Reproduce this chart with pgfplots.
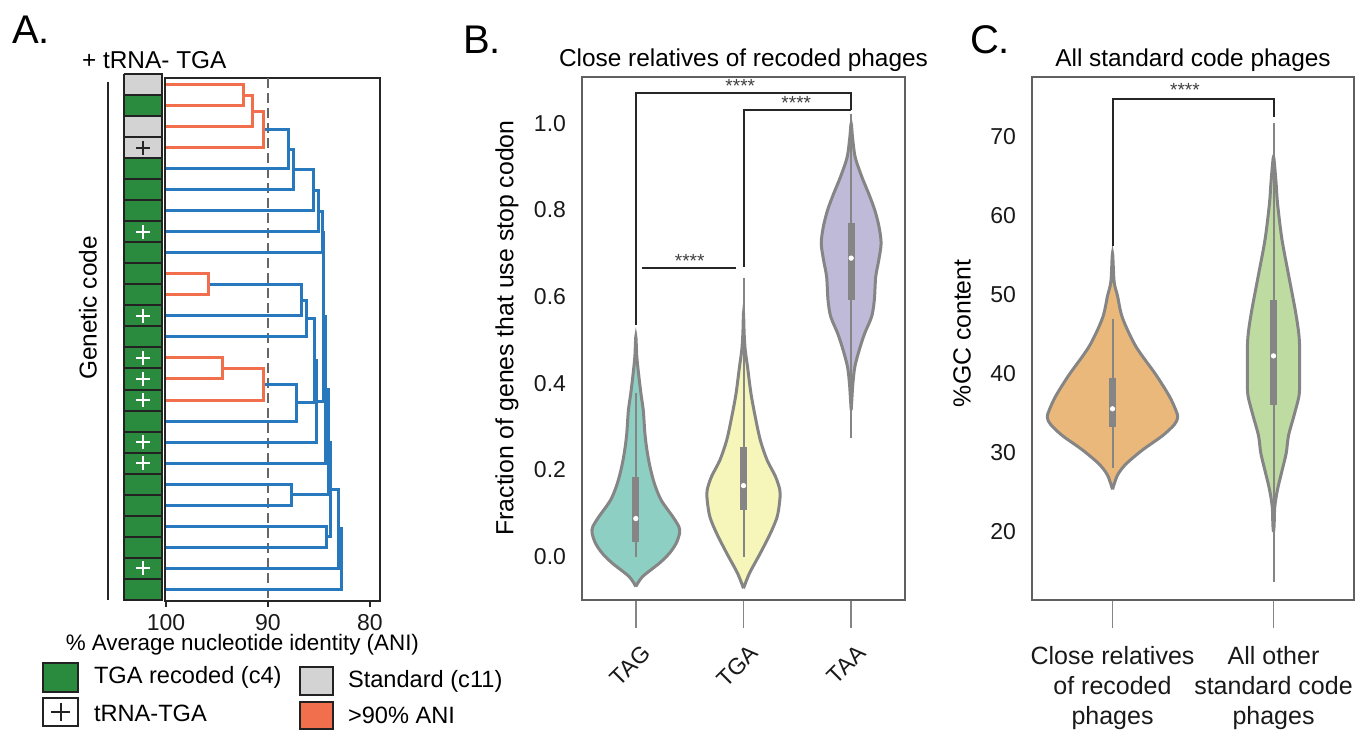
\documentclass[border=0pt]{standalone}
\usepackage{pgfplots}
\pgfplotsset{compat=1.18}
\usepackage{fontspec}
\setmainfont{Liberation Sans}

\definecolor{dorange}{HTML}{F26F4E}
\definecolor{dblue}{HTML}{2878BD}
\definecolor{recgreen}{HTML}{2A8B3E}
\definecolor{stdgray}{HTML}{D3D3D3}
\definecolor{cellline}{HTML}{222222}
\definecolor{vteal}{HTML}{8DCFC2}
\definecolor{vyellow}{HTML}{F6F6BA}
\definecolor{vlav}{HTML}{BEBAD8}
\definecolor{vorange}{HTML}{EAB87A}
\definecolor{vgreen}{HTML}{BEDCA2}
\definecolor{vgray}{HTML}{858585}
\definecolor{spine}{HTML}{606060}

\newcommand\fs[2]{\fontsize{#1}{#2}\selectfont}
% one cell of the genetic-code strip: top, bottom, colour
\newcommand\cell[3]{\addplot[fill=#3, draw=cellline, line width=1pt] coordinates {(104.1,#1) (100.4,#1) (100.4,#2) (104.1,#2) (104.1,#1)};}

\pgfplotsset{
  base/.style={
    scale only axis, anchor=south west, clip=false,
    xtick pos=lower, ytick pos=left,
    /pgf/number format/assume math mode=true,
    tick label style={font=\fs{11.5}{13}, text=black!90},
    title style={font=\fs{12.2}{14}, yshift=-7pt},
  },
  lk/.style={line width=1.5pt},
  vio/.style={draw=vgray, line width=1.5pt, smooth, tension=0.5},
}

\begin{document}
\begin{tikzpicture}[x=1pt,y=1pt]

%% ---------------- A: dendrogram ----------------
\begin{axis}[base,
  at={(82.5pt,64.5pt)}, width=107.5pt, height=261.5pt,
  x dir=reverse, y dir=reverse,
  xmin=79, xmax=100.1, ymin=-0.33, ymax=24.57,
  xtick={100,90,80}, ytick=\empty,
  tick align=outside, major tick length=3pt,
  xtick style={draw=black!85, line width=0.8pt},
  axis line style={draw=black!85, line width=0.9pt},
  xlabel={\% Average nucleotide identity (ANI)},
  xlabel style={font=\fs{11.2}{13}, at={(axis description cs:0.36,-0.05)}, anchor=north},
]
% strip
\cell{-0.5}{0.5}{stdgray}
\cell{0.5}{1.5}{recgreen}
\cell{1.5}{2.5}{stdgray}
\cell{2.5}{3.5}{stdgray}
\cell{3.5}{4.5}{recgreen}
\cell{4.5}{5.5}{recgreen}
\cell{5.5}{6.5}{recgreen}
\cell{6.5}{7.5}{recgreen}
\cell{7.5}{8.5}{recgreen}
\cell{8.5}{9.5}{recgreen}
\cell{9.5}{10.5}{recgreen}
\cell{10.5}{11.5}{recgreen}
\cell{11.5}{12.5}{recgreen}
\cell{12.5}{13.5}{recgreen}
\cell{13.5}{14.5}{recgreen}
\cell{14.5}{15.5}{recgreen}
\cell{15.5}{16.5}{recgreen}
\cell{16.5}{17.5}{recgreen}
\cell{17.5}{18.5}{recgreen}
\cell{18.5}{19.5}{recgreen}
\cell{19.5}{20.5}{recgreen}
\cell{20.5}{21.5}{recgreen}
\cell{21.5}{22.5}{recgreen}
\cell{22.5}{23.5}{recgreen}
\cell{23.5}{24.5}{recgreen}
\addplot[only marks, mark=+, mark size=3.6pt, mark options={line width=1.3pt, draw=white}]
  coordinates {(102.25,7) (102.25,11) (102.25,13) (102.25,14) (102.25,15) (102.25,17) (102.25,18) (102.25,23)};
\addplot[only marks, mark=+, mark size=3.6pt, mark options={line width=1.1pt, draw=black!85}]
  coordinates {(102.25,3)};
% threshold
\addplot[black!60, line width=1.3pt, dash pattern=on 5pt off 2.5pt] coordinates {(90,-0.33) (90,24.57)};
% links above threshold
\addplot[dblue, lk] coordinates {(90.45,2.125) (87.95,2.125) (87.95,4) (100,4)};
\addplot[dblue, lk] coordinates {(87.95,3.0625) (87.45,3.0625) (87.45,5) (100,5)};
\addplot[dblue, lk] coordinates {(87.45,4.031) (85.5,4.031) (85.5,6) (100,6)};
\addplot[dblue, lk] coordinates {(85.5,5.016) (85.0,5.016) (85.0,7) (100,7)};
\addplot[dblue, lk] coordinates {(85.0,6.008) (84.65,6.008) (84.65,8) (100,8)};
\addplot[dblue, lk] coordinates {(95.85,9.5) (86.7,9.5) (86.7,11) (100,11)};
\addplot[dblue, lk] coordinates {(86.7,10.25) (86.25,10.25) (86.25,12) (100,12)};
\addplot[dblue, lk] coordinates {(90.45,14.25) (87.2,14.25) (87.2,16) (100,16)};
\addplot[dblue, lk] coordinates {(86.25,11.125) (85.45,11.125) (85.45,15.125) (87.2,15.125)};
\addplot[dblue, lk] coordinates {(85.45,13.125) (85.25,13.125) (85.25,17) (100,17)};
\addplot[dblue, lk] coordinates {(84.65,7.004) (84.5,7.004) (84.5,15.06) (85.25,15.06)};
\addplot[dblue, lk] coordinates {(84.5,11.03) (84.35,11.03) (84.35,18) (100,18)};
\addplot[dblue, lk] coordinates {(100,19) (87.7,19) (87.7,20) (100,20)};
\addplot[dblue, lk] coordinates {(84.35,14.52) (84.05,14.52) (84.05,19.5) (87.7,19.5)};
\addplot[dblue, lk] coordinates {(100,21) (84.25,21) (84.25,22) (100,22)};
\addplot[dblue, lk] coordinates {(84.05,17.01) (83.9,17.01) (83.9,21.5) (84.25,21.5)};
\addplot[dblue, lk] coordinates {(83.9,19.25) (83.1,19.25) (83.1,23) (100,23)};
\addplot[dblue, lk] coordinates {(83.1,21.13) (82.75,21.13) (82.75,24) (100,24)};
% links below threshold (>90% ANI)
\addplot[dorange, lk] coordinates {(100,0) (92.35,0) (92.35,1) (100,1)};
\addplot[dorange, lk] coordinates {(92.35,0.5) (91.5,0.5) (91.5,2) (100,2)};
\addplot[dorange, lk] coordinates {(91.5,1.25) (90.45,1.25) (90.45,3) (100,3)};
\addplot[dorange, lk] coordinates {(100,9) (95.85,9) (95.85,10) (100,10)};
\addplot[dorange, lk] coordinates {(100,13) (94.45,13) (94.45,14) (100,14)};
\addplot[dorange, lk] coordinates {(94.45,13.5) (90.45,13.5) (90.45,15) (100,15)};
\end{axis}

\node[anchor=west, font=\fs{20}{22}] at (2.5,350) {A.};
\node[anchor=west, font=\fs{12.2}{14}] at (37.5,335) {+ tRNA- TGA};
\draw[black!85, line width=1pt] (54,65) -- (54,324);
\node[rotate=90, font=\fs{12.2}{14}] at (44,211) {Genetic code};

% legend of panel A
\begin{scope}[line width=1pt, draw=cellline]
  \filldraw[fill=recgreen] (21.5,19) rectangle (39,33.5);
  \filldraw[fill=white] (21.5,2) rectangle (39,16);
  \draw (25.5,9) -- (35,9) (30.25,4.5) -- (30.25,13.5);
  \filldraw[fill=stdgray] (150,17.5) rectangle (166.5,31.5);
  \filldraw[fill=dorange] (150,0.5) rectangle (166.5,14);
\end{scope}
\begin{scope}[every node/.style={anchor=west, font=\fs{11.8}{14}}]
  \node at (43.5,26.5) {TGA recoded (c4)};
  \node at (43.5,8.5) {tRNA-TGA};
  \node at (170.5,24.5) {Standard (c11)};
  \node at (170.5,7.5) {>90\% ANI};
\end{scope}

%% ---------------- B: stop codon usage ----------------
\begin{axis}[base,
  at={(291pt,65pt)}, width=161.5pt, height=261.5pt,
  xmin=-0.5, xmax=2.5, ymin=-0.1, ymax=1.107,
  xtick={0,1,2}, xticklabels={TAG,TGA,TAA},
  ytick={0,0.2,0.4,0.6,0.8,1},
  yticklabel style={/pgf/number format/fixed, /pgf/number format/fixed zerofill,
    /pgf/number format/precision=1, xshift=9.5pt},
  tick align=outside, major tick length=14pt,
  xtick style={draw=vgray, line width=0.7pt}, ytick style={draw=none},
  xticklabel style={xshift=2.4pt, yshift=-2.8pt, rotate=45, anchor=north east},
  axis line style={draw=spine, line width=1pt},
  title={Close relatives of recoded phages},
  ylabel={Fraction of genes that use stop codon},
  every axis y label/.style={at={(axis description cs:-0.232,0.52)}, rotate=90, anchor=center,
    font=\fs{12.4}{14}},
]
\addplot[fill=vteal, vio] coordinates {
 (0,-0.069) (0.0625,-0.046) (0.219,-0.015) (0.3125,0.008) (0.375,0.031) (0.406,0.054) (0.40,0.069)
 (0.344,0.092) (0.234,0.131) (0.172,0.169) (0.131,0.208) (0.103,0.246) (0.084,0.285) (0.069,0.338)
 (0.047,0.377) (0.025,0.423) (0.009,0.462) (0,0.508)
 (-0.009,0.462) (-0.025,0.423) (-0.047,0.377) (-0.069,0.338) (-0.084,0.285) (-0.103,0.246)
 (-0.131,0.208) (-0.172,0.169) (-0.234,0.131) (-0.344,0.092) (-0.40,0.069) (-0.406,0.054)
 (-0.375,0.031) (-0.3125,0.008) (-0.219,-0.015) (-0.0625,-0.046) (0,-0.069)};
\addplot[fill=vyellow, vio] coordinates {
 (1,-0.073) (1.056,-0.038) (1.156,0.008) (1.25,0.054) (1.3125,0.092) (1.3375,0.131) (1.3375,0.154)
 (1.297,0.185) (1.219,0.223) (1.156,0.269) (1.109,0.323) (1.069,0.377) (1.0375,0.438) (1.016,0.477)
 (1.006,0.515) (1,0.562)
 (0.994,0.515) (0.984,0.477) (0.9625,0.438) (0.931,0.377) (0.891,0.323) (0.844,0.269) (0.781,0.223)
 (0.703,0.185) (0.6625,0.154) (0.6625,0.131) (0.6875,0.092) (0.75,0.054) (0.844,0.008) (0.944,-0.038)
 (1,-0.073)};
\addplot[fill=vlav, vio] coordinates {
 (2,0.338) (2.006,0.362) (2.016,0.40) (2.034,0.438) (2.075,0.477) (2.125,0.515) (2.19,0.554)
 (2.215,0.592) (2.228,0.646) (2.256,0.684) (2.278,0.723) (2.259,0.761) (2.219,0.80) (2.1625,0.838)
 (2.1,0.876) (2.0375,0.922) (2.0125,0.968) (2,1.0)
 (1.9875,0.968) (1.9625,0.922) (1.9,0.876) (1.8375,0.838) (1.781,0.80) (1.741,0.761) (1.722,0.723)
 (1.744,0.684) (1.772,0.646) (1.785,0.592) (1.81,0.554) (1.875,0.515) (1.925,0.477) (1.966,0.438)
 (1.984,0.40) (1.994,0.362) (2,0.338)};
% inner box plots
\addplot[vgray, line width=1pt] coordinates {(0,0) (0,0.377)};
\addplot[vgray, line width=1pt] coordinates {(1,0) (1,0.642)};
\addplot[vgray, line width=1pt] coordinates {(2,0.273) (2,1.022)};
\addplot[vgray, line width=3.6pt] coordinates {(0,0.035) (0,0.185)};
\addplot[vgray, line width=3.6pt] coordinates {(1,0.108) (1,0.254)};
\addplot[vgray, line width=3.6pt] coordinates {(2,0.592) (2,0.769)};
\addplot[only marks, mark=*, mark size=1.1pt, mark options={fill=white, draw=white}]
  coordinates {(0,0.088) (1,0.164) (2,0.689)};
% significance brackets
\addplot[black!85, line width=1pt] coordinates {(0,0.535) (0,1.071) (2,1.071) (2,1.03)};
\addplot[black!85, line width=1pt] coordinates {(1,0.669) (1,1.032) (2,1.032)};
\addplot[black!85, line width=1pt] coordinates {(0.056,0.667) (0.93,0.667)};
\node[font=\fs{9.5}{10}, text=black!75] at (axis cs:0.97,1.087) {****};
\node[font=\fs{9.5}{10}, text=black!75] at (axis cs:1.49,1.048) {****};
\node[font=\fs{9.5}{10}, text=black!75] at (axis cs:0.5,0.683) {****};
\end{axis}
\node[anchor=west, font=\fs{20}{22}] at (228,345) {B.};

%% ---------------- C: GC content ----------------
\begin{axis}[base,
  at={(516pt,65pt)}, width=161pt, height=261.5pt,
  xmin=-0.5, xmax=1.5, ymin=11.4, ymax=77.6,
  xtick={0,1}, xticklabels={{Close relatives\\of recoded\\phages},{All other\\standard code\\phages}},
  ytick={20,30,40,50,60,70},
  tick align=outside, major tick length=14pt,
  xtick style={draw=vgray, line width=0.7pt}, ytick style={draw=none},
  yticklabel style={xshift=9.5pt},
  xticklabel style={align=center, font=\fs{12.5}{15}, yshift=-5.5pt},
  axis line style={draw=spine, line width=1pt},
  title={All standard code phages},
  ylabel={\%GC content},
  every axis y label/.style={at={(axis description cs:-0.217,0.51)}, rotate=90, anchor=center,
    font=\fs{12.4}{14}},
]
\addplot[fill=vorange, vio] coordinates {
 (0,25.4) (0.031,27.2) (0.083,28.6) (0.187,30.4) (0.311,32.2) (0.384,33.6) (0.405,34.5) (0.394,35.4)
 (0.353,37.2) (0.27,39.9) (0.145,43.5) (0.062,47.1) (0.031,49.9) (0.010,51.7) (0,55.3)
 (-0.010,51.7) (-0.031,49.9) (-0.062,47.1) (-0.145,43.5) (-0.27,39.9) (-0.353,37.2) (-0.394,35.4)
 (-0.405,34.5) (-0.384,33.6) (-0.311,32.2) (-0.187,30.4) (-0.083,28.6) (-0.031,27.2) (0,25.4)};
\addplot[fill=vgreen, vio] coordinates {
 (1,20.0) (1.004,20.9) (1.008,23.2) (1.025,25.4) (1.052,27.7) (1.079,30.0) (1.093,32.2) (1.124,34.5)
 (1.158,37.2) (1.162,39.0) (1.162,41.3) (1.162,43.5) (1.156,45.3) (1.135,48.1) (1.093,52.6)
 (1.052,57.1) (1.025,61.6) (1.017,63.9) (1.006,66.6) (1,67.5)
 (0.994,66.6) (0.983,63.9) (0.975,61.6) (0.948,57.1) (0.907,52.6) (0.865,48.1) (0.844,45.3)
 (0.838,43.5) (0.838,41.3) (0.838,39.0) (0.842,37.2) (0.876,34.5) (0.907,32.2) (0.921,30.0)
 (0.948,27.7) (0.975,25.4) (0.992,23.2) (0.996,20.9) (1,20.0)};
\addplot[vgray, line width=1pt] coordinates {(0,28.1) (0,47.0)};
\addplot[vgray, line width=1pt] coordinates {(1,13.7) (1,71.8)};
\addplot[vgray, line width=3.6pt] coordinates {(0,33.3) (0,39.5)};
\addplot[vgray, line width=3.6pt] coordinates {(1,36.1) (1,49.4)};
\addplot[only marks, mark=*, mark size=1.1pt, mark options={fill=white, draw=white}]
  coordinates {(0,35.6) (1,42.3)};
\addplot[black!85, line width=1pt] coordinates {(0,56.2) (0,74.8) (1,74.8) (1,72.5)};
\node[font=\fs{9.5}{10}, text=black!75] at (axis cs:0.45,76.0) {****};
\end{axis}
\node[anchor=west, font=\fs{20}{22}] at (481.5,345) {C.};

\pgfresetboundingbox
\path (0,0) rectangle (685,365);
\end{tikzpicture}
\end{document}
